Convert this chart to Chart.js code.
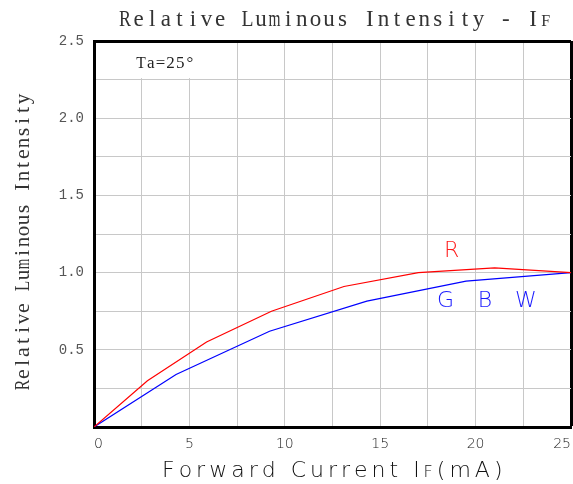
<!DOCTYPE html>
<html>
<head>
<meta charset="utf-8">
<title>Relative Luminous Intensity - IF</title>
<script src="https://cdn.jsdelivr.net/npm/chart.js@4.4.1/dist/chart.umd.min.js"></script>
<style>
  html, body { margin: 0; padding: 0; background: #fff; }
  #wrap { position: relative; width: 573px; height: 484px; }
</style>
</head>
<body>
<div id="wrap"><canvas id="chart"></canvas></div>
<script>
// forward current (mA) vs relative luminous intensity
const redCurrent   = [0, 2.8, 5.9, 9.3, 13.1, 17.0, 21.0, 25];
const redIntensity = [0, 0.30, 0.55, 0.75, 0.91, 1.00, 1.03, 1.00];
const gbwCurrent   = [0, 4.3, 9.2, 14.3, 19.5, 25];
const gbwIntensity = [0, 0.34, 0.62, 0.815, 0.945, 1.00];

const xTickLabels = [0, 5, 10, 15, 20, 25];
const yTickLabels = [0.5, 1.0, 1.5, 2.0, 2.5];

// curve names, placed in data coordinates
const curveLabels = [
  { text: 'R', x: 18.75, y: 1.10, color: '#ff1a1a' },
  { text: 'G', x: 18.42, y: 0.78, color: '#1a1aff' },
  { text: 'B', x: 20.49, y: 0.78, color: '#1a1aff' },
  { text: 'W', x: 22.64, y: 0.78, color: '#1a1aff' }
];

const near = (list, v) => list.some(t => Math.abs(t - v) < 1e-6);

// draw chars on a fixed pitch (the source uses a cad-style mono layout)
function pitched(ctx, text, cx, y, pitch, font, maxW) {
  ctx.font = font;
  ctx.textAlign = 'center';
  const x0 = cx - (text.length - 1) * pitch / 2;
  for (let i = 0; i < text.length; i++) {
    ctx.fillText(text[i], x0 + i * pitch, y, maxW);
  }
}

// draw runs of text with extra spacing between glyphs
function spaced(ctx, runs, x, y, gap) {
  ctx.textAlign = 'left';
  for (const run of runs) {
    ctx.font = run.font;
    for (const ch of run.text) {
      ctx.fillText(ch, x, y);
      x += ctx.measureText(ch).width + gap;
    }
  }
}

const decor = {
  id: 'decor',
  beforeDatasetsDraw(chart) {
    const { ctx, scales: { x, y } } = chart;
    // blank cell behind the Ta note
    const l = x.getPixelForValue(0) + 2, r = x.getPixelForValue(6.2);
    const t = y.getPixelForValue(2.5) + 2, b = y.getPixelForValue(2.25) - 1.5;
    ctx.save();
    ctx.fillStyle = '#fff';
    ctx.fillRect(l, t, r - l, b - t);
    ctx.restore();
  },
  afterDraw(chart) {
    const { ctx, scales: { x, y } } = chart;
    ctx.save();
    ctx.textBaseline = 'alphabetic';

    // main title
    ctx.fillStyle = '#333';
    pitched(ctx, 'Relative Luminous Intensity - I', 329, 26, 13.6, '23px "Liberation Serif"', 12);
    ctx.font = '16px "Liberation Serif"';
    ctx.fillText('F', 329 + 15.5 * 13.6 + 6, 26);

    // y axis title
    ctx.save();
    ctx.translate(28.5, 242);
    ctx.rotate(-Math.PI / 2);
    pitched(ctx, 'Relative Luminous Intensity', 0, 0, 11, '22px "Liberation Serif"', 10.5);
    ctx.restore();

    // x axis title
    ctx.fillStyle = '#111';
    spaced(ctx, [
      { text: 'Forward Current I', font: '200 22px "DejaVu Sans"' },
      { text: 'F', font: '200 16px "DejaVu Sans"' },
      { text: '(mA)', font: '200 22px "DejaVu Sans"' }
    ], 162, 476.5, 4);

    // ambient note
    ctx.fillStyle = '#222';
    pitched(ctx, 'Ta=25°', 165.5, 68, 9.8, '17px "Liberation Serif"', 9.5);

    // curve names
    ctx.font = '200 22px "DejaVu Sans"';
    ctx.textAlign = 'center';
    for (const lb of curveLabels) {
      ctx.fillStyle = lb.color;
      ctx.fillText(lb.text, x.getPixelForValue(lb.x), y.getPixelForValue(lb.y));
    }
    ctx.restore();
  }
};

const ctx = document.getElementById('chart').getContext('2d');
const chart = new Chart(ctx, {
  type: 'line',
  data: {
    datasets: [
      {
        label: 'R',
        data: redCurrent.map((c, i) => ({ x: c, y: redIntensity[i] })),
        borderColor: '#ff0000',
        borderWidth: 1.2,
        pointRadius: 0,
        tension: 0
      },
      {
        label: 'G B W',
        data: gbwCurrent.map((c, i) => ({ x: c, y: gbwIntensity[i] })),
        borderColor: '#0000ff',
        borderWidth: 1.2,
        pointRadius: 0,
        tension: 0
      }
    ]
  },
  options: {
    responsive: true,
    maintainAspectRatio: false,
    animation: false,
    layout: { padding: { top: 41, right: 2, left: 0, bottom: 0 } },
    plugins: {
      legend: { display: false },
      title: { display: false },
      tooltip: { enabled: false }
    },
    scales: {
      x: {
        type: 'linear',
        min: 0,
        max: 25,
        afterFit: s => { s.height = 57; },
        border: { color: '#000', width: 3 },
        grid: {
          drawTicks: false,
          color: c => (c.tick && c.tick.value === 25 ? '#000' : '#c8c8c8'),
          lineWidth: c => (c.tick && c.tick.value === 25 ? 3 : 1)
        },
        ticks: {
          stepSize: 2.5,
          autoSkip: false,
          maxRotation: 0,
          align: 'inner',
          // padding 0 keeps the plot flush right; tall line height drops labels instead
          padding: 0,
          color: '#222',
          font: { family: 'DejaVu Sans', size: 14, weight: 200, lineHeight: 2.5 },
          callback: v => (near(xTickLabels, v) ? String(v) : '')
        }
      },
      y: {
        type: 'linear',
        min: 0,
        max: 2.5,
        afterFit: s => { s.width = 94; },
        border: { color: '#000', width: 3 },
        grid: {
          drawTicks: false,
          color: c => (c.tick && Math.abs(c.tick.value - 2.5) < 1e-6 ? '#000' : '#c8c8c8'),
          lineWidth: c => (c.tick && Math.abs(c.tick.value - 2.5) < 1e-6 ? 3 : 1)
        },
        ticks: {
          stepSize: 0.25,
          autoSkip: false,
          padding: 10,
          color: '#555',
          font: { family: 'Liberation Mono', size: 14 },
          callback: v => (near(yTickLabels, v) ? v.toFixed(1) : '')
        }
      }
    }
  },
  plugins: [decor]
});
</script>
</body>
</html>
